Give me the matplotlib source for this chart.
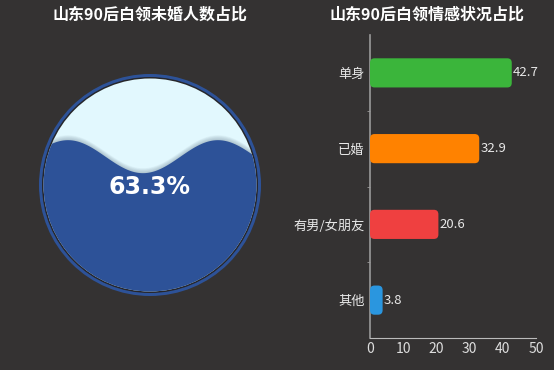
import numpy as np
import matplotlib
matplotlib.use("Agg")
import matplotlib.pyplot as plt
from matplotlib.patches import Circle, FancyBboxPatch, Polygon

plt.rcParams['font.family'] = ['Noto Sans CJK SC', 'DejaVu Sans']

# Data
left_title = "山东90后白领未婚人数占比"
unmarried_ratio = 0.633
right_title = "山东90后白领情感状况占比"
categories = ["单身", "已婚", "有男/女朋友", "其他"]
values = [42.7, 32.9, 20.6, 3.8]
bar_colors = ["#3bb53b", "#ff8200", "#ef4040", "#2a96df"]
xticks = [0, 10, 20, 30, 40, 50]

BG = "#343232"
W, H = 554, 370
fig = plt.figure(figsize=(W / 100, H / 100), dpi=100, facecolor=BG)

# ---------- Left: liquid fill ----------
ax1 = fig.add_axes([0, 0, 277 / W, 1])
ax1.set_xlim(0, 277)
ax1.set_ylim(H, 0)
ax1.set_aspect('equal')
ax1.axis('off')
ax1.set_facecolor(BG)

cx, cy = 150, 185
R_out, R_in = 111, 106.5
ax1.add_patch(Circle((cx, cy), R_out, facecolor="#2d5298", edgecolor="none", zorder=1))
ax1.add_patch(Circle((cx, cy), R_out - 3, facecolor="#26262a", edgecolor="none", zorder=2))
bg_circ = Circle((cx, cy), R_in, facecolor="#e2f8fe", edgecolor="none", zorder=3)
ax1.add_patch(bg_circ)

level = cy + R_in - 2 * R_in * unmarried_ratio
amp = 16.5
wavelen = 150
xs = np.linspace(cx - R_in - 5, cx + R_in + 5, 400)
ys = level + amp * np.cos(2 * np.pi * (xs - 143) / wavelen)
# soft shadow above wave
for off in np.linspace(5, 0.5, 8):
    sh = Polygon(np.column_stack([np.r_[xs, xs[-1], xs[0]],
                                  np.r_[ys - off, cy + R_in + 10, cy + R_in + 10]]),
                 closed=True, facecolor="#6a7f90", alpha=0.06, edgecolor="none", zorder=4)
    sh.set_clip_path(bg_circ)
    ax1.add_patch(sh)
wave = Polygon(np.column_stack([np.r_[xs, xs[-1], xs[0]],
                                np.r_[ys, cy + R_in + 10, cy + R_in + 10]]),
               closed=True, facecolor="#2d5298", edgecolor="none", zorder=5)
wave.set_clip_path(bg_circ)
ax1.add_patch(wave)
ax1.text(cx, 187, f"{unmarried_ratio * 100:.1f}%", color="white", fontsize=17,
         fontweight="bold", ha="center", va="center", family="DejaVu Sans", zorder=6)
fig.text(150 / W, 1 - 15 / H, left_title, color="white", fontsize=11.5,
         fontweight="bold", ha="center", va="center")

# ---------- Right: bar chart ----------
x0, x1 = 370, 536
y_top, y_bot = 35, 338
ax2 = fig.add_axes([x0 / W, 1 - y_bot / H, (x1 - x0) / W, (y_bot - y_top) / H])
ax2.set_facecolor("none")
pos = np.arange(len(categories))
bh = 0.385
bars = ax2.barh(pos, values, height=bh, color=bar_colors)
ax2.set_xlim(0, 50)
ax2.set_ylim(len(categories) - 0.5, -0.5)

px_per_x = (x1 - x0) / 50
px_per_y = (y_bot - y_top) / len(categories)
for b, c in zip(bars, bar_colors):
    b.set_visible(False)
    rx = 4.5 / px_per_x
    fb = FancyBboxPatch((b.get_x(), b.get_y()), b.get_width(), b.get_height(),
                        boxstyle=f"round,pad=0,rounding_size={rx}",
                        mutation_aspect=px_per_x / px_per_y,
                        facecolor=c, edgecolor="none", zorder=3)
    ax2.add_patch(fb)
for p, v in zip(pos, values):
    ax2.text(v + 0.4, p, f"{v}", color="#e8e8e8", fontsize=9.5, ha="left", va="center")

ax2.set_yticks(pos)
ax2.set_yticklabels(categories)
ax2.set_yticks(np.arange(0.5, len(categories) - 0.5, 1), minor=True)
ax2.tick_params(axis='y', which='major', length=0, colors="#e8e8e8", labelsize=9.5, pad=4)
ax2.tick_params(axis='y', which='minor', length=2.5, color="#9a9a9a", direction="out")
ax2.set_xticks(xticks)
ax2.tick_params(axis='x', length=0, colors="#dddddd", labelsize=10, pad=3)
for s in ["top", "right"]:
    ax2.spines[s].set_visible(False)
ax2.spines["left"].set_color("#9a9a9a")
ax2.spines["left"].set_linewidth(1.2)
ax2.spines["bottom"].set_color("#bbbbbb")
ax2.spines["bottom"].set_linewidth(0.8)
fig.text(427 / W, 1 - 15 / H, right_title, color="white", fontsize=11.5,
         fontweight="bold", ha="center", va="center")

fig.savefig("out.png", dpi=100, facecolor=BG)
